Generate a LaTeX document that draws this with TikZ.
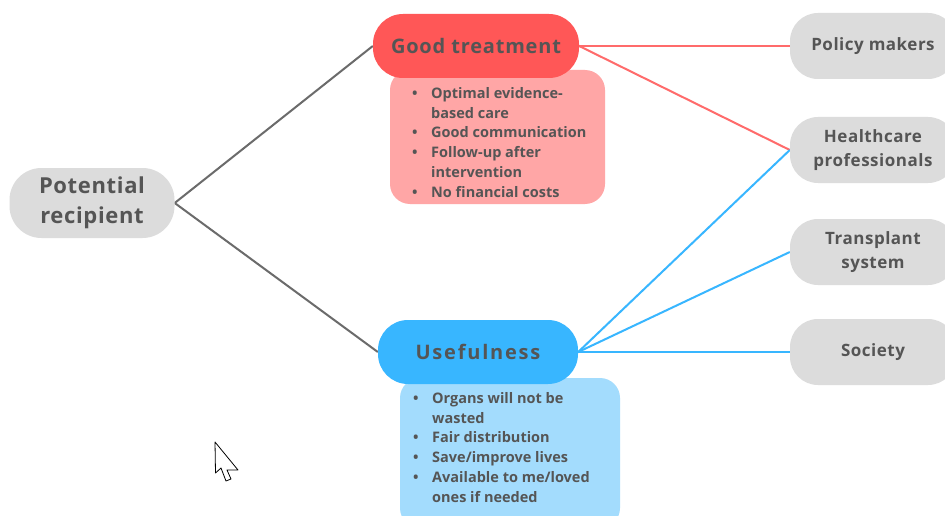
\documentclass[tikz,border=0pt]{standalone}
\usepackage{fontspec}
\setmainfont{Open Sans}
\pgfdeclarelayer{bg}
\pgfsetlayers{bg,main}
\definecolor{txt}{HTML}{555555}
\definecolor{grayfill}{HTML}{DCDCDC}
\definecolor{redtitle}{HTML}{FF5757}
\definecolor{redlist}{HTML}{FFA6A6}
\definecolor{bluetitle}{HTML}{38B6FF}
\definecolor{bluelist}{HTML}{A3DCFD}
\definecolor{linegray}{HTML}{6B6B6B}
\definecolor{linered}{HTML}{FF6B6B}
\definecolor{lineblue}{HTML}{38B6FF}
\newcommand{\bl}{\makebox[21pt][l]{\hspace*{2pt}•}}
\newcommand{\ind}{\hspace*{21pt}}
\tikzset{
  graybox/.style={fill=grayfill, rounded corners=28pt, minimum width=166pt, minimum height=66pt, align=center, text=txt, inner sep=0pt},
  titlebox/.style={rounded corners=30pt, minimum width=206pt, minimum height=64pt, text=txt, inner sep=0pt},
  listbox/.style={rounded corners=20pt, inner sep=0pt},
  listtext/.style={anchor=north west, align=left, inner sep=0pt, text=txt, font=\fontsize{14.5}{19.8}\selectfont\bfseries},
  conn/.style={line width=2pt},
}
\begin{document}
\begin{tikzpicture}[x=1pt,y=-1pt]
\useasboundingbox (0,0) rectangle (945,516);
\begin{pgfonlayer}{bg}
\fill[white] (0,0) rectangle (945,516);
\end{pgfonlayer}
\begin{scope}
\clip (0,0) rectangle (945,516);
% list boxes
\node[listbox, fill=redlist, minimum width=215pt, minimum height=134pt] (rl) at (497.5,137) {};
\node[listbox, fill=bluelist, minimum width=220pt, minimum height=150pt] (bl) at (510,453) {};
% title boxes
\node[titlebox, fill=redtitle, font=\fontsize{20}{22}\selectfont\bfseries\addfontfeatures{LetterSpace=4}] (gt) at (476,46) {Good treatment};
\node[titlebox, fill=bluetitle, minimum width=200pt, font=\fontsize{20}{22}\selectfont\bfseries\addfontfeatures{LetterSpace=9}] (us) at (478,352) {Usefulness};
% left node
\node[graybox, minimum width=165pt, minimum height=70pt, rounded corners=32pt, font=\fontsize{22}{30}\selectfont\bfseries\addfontfeatures{LetterSpace=3}] (pr) at (92,203) {Potential\\recipient};
% right nodes
\node[graybox, font=\fontsize{17}{24}\selectfont\bfseries\addfontfeatures{LetterSpace=3}] (pm) at (873,46) {Policy makers};
\node[graybox, font=\fontsize{17}{24}\selectfont\bfseries\addfontfeatures{LetterSpace=3}] (hp) at (873,150) {Healthcare\\professionals};
\node[graybox, font=\fontsize{17}{24}\selectfont\bfseries\addfontfeatures{LetterSpace=3}] (ts) at (873,252) {Transplant\\system};
\node[graybox, font=\fontsize{17}{24}\selectfont\bfseries\addfontfeatures{LetterSpace=3}] (so) at (873,352) {Society};
% list texts
\node[listtext] (rt) at (410,87) {\bl Optimal evidence-\\\ind based care\\\bl Good communication\\\bl Follow-up after\\\ind intervention\\\bl No financial costs};
\node[listtext] (bt) at (411,392) {\bl Organs will not be\\\ind wasted\\\bl Fair distribution\\\bl Save/improve lives\\\bl Available to me/loved\\\ind ones if needed};
\end{scope}
% connectors behind the boxes
\begin{pgfonlayer}{bg}
\draw[conn, linegray] (pr.east) -- (gt.west);
\draw[conn, linegray] (pr.east) -- (us.west);
\draw[conn, linered] (gt.east) -- (pm.west);
\draw[conn, linered] (gt.east) -- (hp.west);
\draw[conn, lineblue] (us.east) -- (hp.west);
\draw[conn, lineblue] (us.east) -- (ts.west);
\draw[conn, lineblue] (us.east) -- (so.west);
\end{pgfonlayer}
% cursor
\draw[fill=white, line width=0.8pt, line join=round] (215,442) -- (215.5,473) -- (221,468) -- (226,481) -- (231,479) -- (227,470) -- (238,470) -- cycle;
\end{tikzpicture}
\end{document}
